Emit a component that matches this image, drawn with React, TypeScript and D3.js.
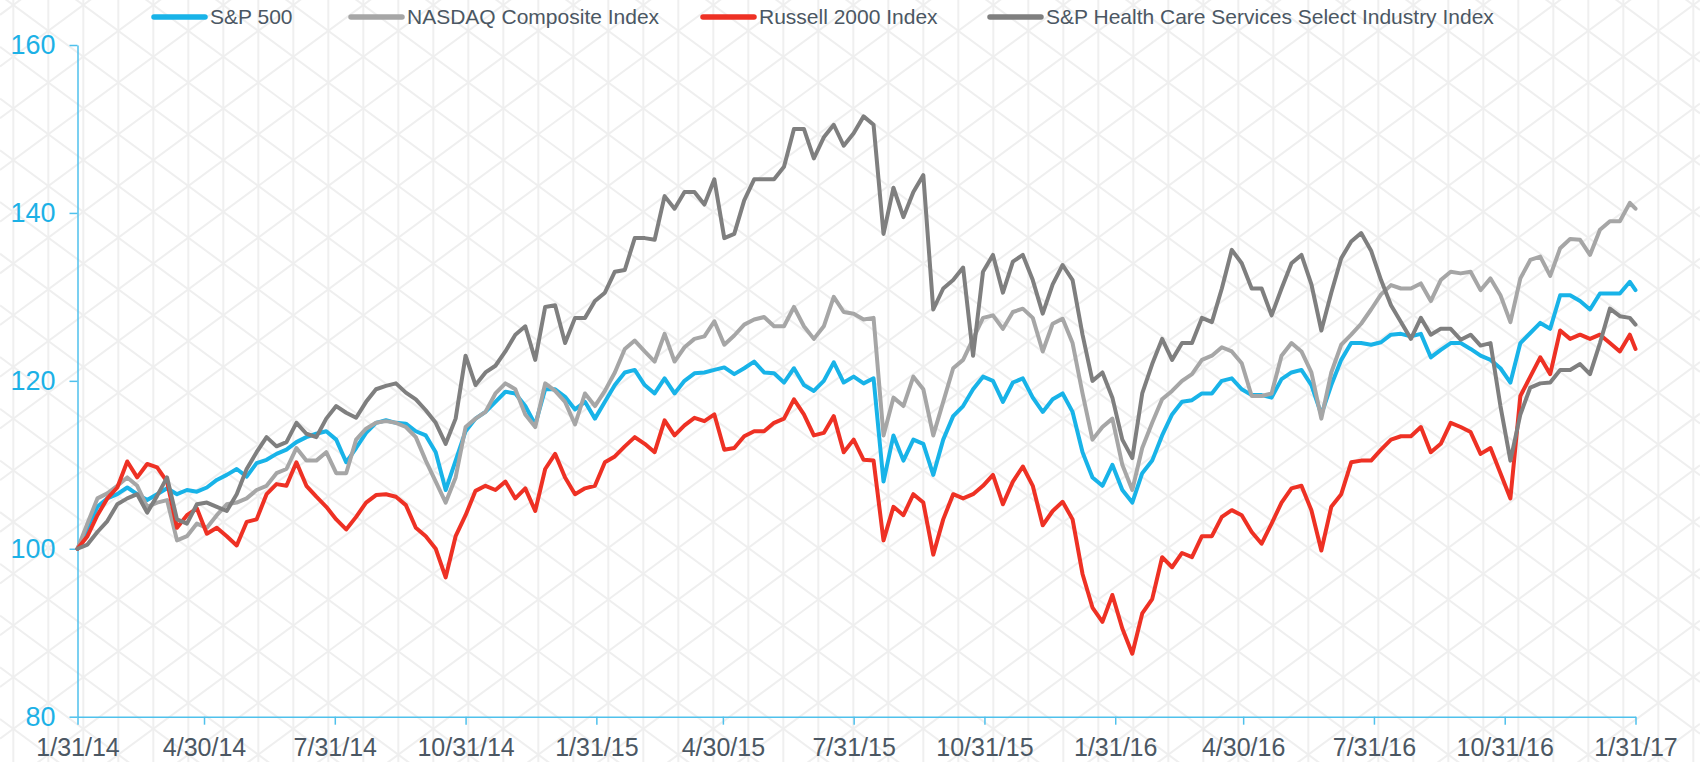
import * as d3 from 'd3';
import { useEffect, useRef } from 'react';

// series, in the order Excel drew them (last one on top)
const seriesNames = [
  'S&P 500',
  'NASDAQ Composite Index',
  'Russell 2000 Index',
  'S&P Health Care Services Select Industry Index',
];
const seriesColors = ['#18b3e8', '#a6a6a6', '#ee3124', '#7f7f7f'];

const startLabel = '1/31/14';
const endLabel = '1/31/17';
const xTickLabels = [
  '1/31/14', '4/30/14', '7/31/14', '10/31/14', '1/31/15', '4/30/15', '7/31/15',
  '10/31/15', '1/31/16', '4/30/16', '7/31/16', '10/31/16', '1/31/17',
];
const yTicks = [80, 100, 120, 140, 160];

// weekly readings, indexed to 100 on 1/31/14, last value is 1/31/17
const spx = [
  100, 102.5, 105, 106, 106.5, 107.3, 106.5, 105.8, 106.5, 107.2,
  106.5, 107, 106.8, 107.3, 108.2, 108.8, 109.5, 108.6, 110.2, 110.6,
  111.3, 111.8, 112.7, 113.3, 113.7, 114, 113, 110.3, 112, 113.8,
  115, 115.3, 115, 114.9, 114, 113.5, 111.5, 107, 110.5, 114,
  115.5, 116.3, 117.5, 118.7, 118.5, 117, 114.8, 119, 119, 118.1,
  116.6, 117.5, 115.5, 117.5, 119.5, 121, 121.3, 119.5, 118.5, 120.3,
  118.5, 120, 120.9, 121, 121.3, 121.6, 120.8, 121.5, 122.3, 121,
  120.9, 119.8, 121.5, 119.5, 118.8, 120, 122.2, 119.8, 120.5, 119.7,
  120.3, 108, 113.5, 110.5, 113, 112.5, 108.8, 113, 115.8, 117,
  119, 120.5, 120, 117.5, 119.8, 120.3, 118, 116.3, 117.8, 118.5,
  116.3, 111.5, 108.5, 107.5, 110, 107, 105.5, 109, 110.5, 113.5,
  116, 117.5, 117.7, 118.5, 118.5, 120, 120.3, 119, 118.3, 118.3,
  118, 120.2, 121, 121.3, 119.5, 116, 119.5, 122.5, 124.5, 124.5,
  124.3, 124.6, 125.5, 125.6, 125.3, 125.6, 122.8, 123.7, 124.5, 124.5,
  123.8, 123, 122.5, 121.5, 119.8, 124.5, 125.7, 126.9, 126.2, 130.2,
  130.2, 129.5, 128.5, 130.4, 130.4, 130.4, 131.8, 130.8,
];

const nasdaq = [
  100, 103, 106, 106.6, 107.5, 108.5, 107.5, 105, 105.5, 105.8,
  101, 101.5, 103, 102.5, 104, 105.3, 105.5, 106, 107, 107.5,
  109, 109.5, 112, 110.5, 110.5, 111.5, 109, 109, 113, 114.3,
  115, 115.2, 115, 114.5, 113.3, 110.5, 108, 105.5, 108.5, 114.5,
  115.5, 116.3, 118.5, 119.7, 119, 116, 114.5, 119.7, 118.8, 117.5,
  114.8, 118.5, 117, 118.8, 121, 123.8, 124.8, 123.5, 122.3, 125.6,
  122.3, 124, 125, 125.3, 127.1, 124.3, 125.4, 126.7, 127.3, 127.6,
  126.5, 126.5, 128.8, 126.5, 125, 126.5, 130, 128.2, 128, 127.3,
  127.5, 113.5, 118, 117, 120.5, 119, 113.5, 117.5, 121.5, 122.5,
  125, 127.5, 127.8, 126.2, 128.2, 128.6, 127.5, 123.5, 126.8, 127.4,
  124.5, 118.5, 113, 114.5, 115.5, 110, 107, 112, 115, 117.8,
  118.8, 120, 120.8, 122.5, 123, 124, 123.5, 122.1, 118.2, 118.2,
  118.5, 123, 124.5, 123.5, 121, 115.5, 121, 124.3, 125.5, 126.8,
  128.5, 130.3, 131.4, 131, 131, 131.6, 129.5, 132, 133, 132.8,
  133, 130.8, 132.2, 130.2, 127, 132.2, 134.4, 134.8, 132.5, 135.8,
  136.9, 136.8, 135, 138, 139, 139, 141.2, 140.5,
];

const russell = [
  100, 101.5, 104, 106, 107.3, 110.4, 108.5, 110.1, 109.7, 108,
  102.5, 104, 104.8, 101.8, 102.5, 101.5, 100.4, 103.2, 103.5, 106.5,
  107.7, 107.5, 110.3, 107.5, 106.2, 105, 103.5, 102.3, 103.8, 105.5,
  106.4, 106.5, 106.2, 105.2, 102.5, 101.5, 100, 96.6, 101.5, 104,
  106.9, 107.5, 107, 108, 106, 107.2, 104.5, 109.5, 111.3, 108.5,
  106.5, 107.2, 107.5, 110.3, 111, 112.2, 113.3, 112.5, 111.5, 115.3,
  113.5, 114.7, 115.6, 115.2, 116, 111.8, 112, 113.4, 114, 114,
  115, 115.5, 117.8, 116, 113.5, 113.8, 115.8, 111.5, 113, 110.6,
  110.5, 101, 105, 104, 106.5, 105.5, 99.3, 103.5, 106.5, 106,
  106.5, 107.5, 108.8, 105.3, 108, 109.8, 107.5, 102.8, 104.5, 105.6,
  103.5, 97, 93, 91.3, 94.5, 90.5, 87.5, 92.3, 94, 99,
  97.8, 99.5, 99, 101.5, 101.5, 103.8, 104.6, 104, 102, 100.6,
  103, 105.5, 107.2, 107.5, 104.6, 99.8, 105, 106.5, 110.3, 110.5,
  110.5, 111.8, 113, 113.4, 113.4, 114.5, 111.5, 112.5, 115, 114.5,
  113.9, 111.3, 112, 109, 106, 118.2, 120.5, 122.8, 120.8, 126,
  125, 125.5, 125, 125.5, 124.5, 123.5, 125.5, 123.8,
];

const healthCare = [
  100, 100.5, 102, 103.3, 105.3, 106, 106.5, 104.3, 106.3, 108.5,
  103.5, 103, 105.3, 105.5, 105, 104.5, 106.5, 109.5, 111.5, 113.3,
  112.2, 112.7, 115, 113.7, 113.3, 115.5, 117, 116.2, 115.6, 117.5,
  119, 119.4, 119.7, 118.6, 117.8, 116.5, 115, 112.5, 115.5, 123,
  119.5, 121, 121.8, 123.5, 125.5, 126.5, 122.5, 128.8, 129, 124.5,
  127.5, 127.5, 129.5, 130.5, 133, 133.2, 137, 137, 136.8, 142,
  140.5, 142.5, 142.5, 141, 144, 137, 137.5, 141.5, 144, 144,
  144, 145.5, 150, 150, 146.5, 149, 150.5, 148, 149.5, 151.5,
  150.5, 137.5, 143, 139.5, 142.5, 144.5, 128.5, 131, 132, 133.5,
  123, 133, 135, 130.5, 134.2, 135, 132, 128, 131.5, 133.8,
  132, 125.5, 120, 121, 118, 113, 110.8, 118.5, 122, 125,
  122.5, 124.5, 124.5, 127.5, 127, 131, 135.6, 134, 131, 131,
  127.8, 131, 134, 135, 131.5, 126, 130.5, 134.6, 136.6, 137.6,
  135.5, 132, 129, 127, 125, 127.5, 125.5, 126.2, 126.2, 124.9,
  125.5, 124.2, 124.5, 117, 110.5, 116, 119.2, 119.7, 119.8, 121.3,
  121.3, 122, 120.8, 124.5, 128.6, 127.7, 127.5, 126.7,
];

const allSeries = [spx, nasdaq, russell, healthCare];

const W = 1700;
const H = 762;
const plot = { left: 77.5, right: 1635.5, top: 45, bottom: 716.7 };
const font = '"Liberation Sans", Arial, Helvetica, sans-serif';
const axisBlue = '#4fc1ec';
// left edge of each legend entry
const legendX = [152, 349, 701, 988];

const ChartDraw = () => {
  const chartRef = useRef(null);

  useEffect(() => {
    document.body.style.margin = '0';
    const svg = d3.select(chartRef.current);
    svg.selectAll('*').remove();

    const parse = d3.timeParse('%m/%d/%y');
    const start = parse(startLabel);
    const end = parse(endLabel);
    const dates = d3.timeDay.range(start, end, 7);
    dates.push(end);

    const x = d3.scaleTime().domain([start, end]).range([plot.left, plot.right]);
    const y = d3.scaleLinear().domain([80, 160]).range([plot.bottom, plot.top]);

    svg.append('rect').attr('width', W).attr('height', H).attr('fill', '#ffffff');

    // triangle lattice in the background
    const bg = svg.append('g').attr('stroke', '#efefef').attr('stroke-width', 2);
    const colW = 35;
    const rowH = 51.7;
    const slope = rowH / 2 / colW;
    for (let vx = 13.3; vx <= W; vx += colW) {
      bg.append('line').attr('x1', vx).attr('x2', vx).attr('y1', 0).attr('y2', H);
    }
    for (let n = -30; n <= 45; n++) {
      const c = 5 + rowH * n;
      bg.append('line')
        .attr('x1', 0).attr('y1', c - slope * 13.3)
        .attr('x2', W).attr('y2', c + slope * (W - 13.3));
      bg.append('line')
        .attr('x1', 0).attr('y1', c + slope * 13.3)
        .attr('x2', W).attr('y2', c - slope * (W - 13.3));
    }

    // axes
    const yAxis = d3.axisLeft(y).tickValues(yTicks).tickSize(8).tickSizeOuter(0).tickPadding(14);
    const gy = svg.append('g').attr('transform', `translate(${plot.left},0)`).call(yAxis);
    gy.select('.domain').attr('stroke', axisBlue).attr('stroke-width', 1.5);
    gy.selectAll('.tick line').attr('stroke', axisBlue).attr('stroke-width', 1.5);
    gy.selectAll('.tick text')
      .attr('fill', '#1cb1e6')
      .style('font-family', font)
      .style('font-size', '27px');

    const xAxis = d3
      .axisBottom(x)
      .tickValues(xTickLabels.map((d) => parse(d)))
      .tickFormat((d, i) => xTickLabels[i])
      .tickSize(8)
      .tickSizeOuter(0)
      .tickPadding(14);
    const gx = svg.append('g').attr('transform', `translate(0,${plot.bottom})`).call(xAxis);
    gx.select('.domain').attr('stroke', axisBlue).attr('stroke-width', 1.5);
    gx.selectAll('.tick line').attr('stroke', axisBlue).attr('stroke-width', 1.5);
    gx.selectAll('.tick text')
      .attr('fill', '#4b5763')
      .style('font-family', font)
      .style('font-size', '25px');

    // series lines
    const line = d3
      .line()
      .x((d, i) => x(dates[i]))
      .y((d) => y(d));

    allSeries.forEach((values, i) => {
      svg
        .append('path')
        .datum(values)
        .attr('d', line)
        .style('fill', 'none')
        .style('stroke', seriesColors[i])
        .style('stroke-width', 4)
        .style('stroke-linejoin', 'round')
        .style('stroke-linecap', 'round');
    });

    // legend
    const legend = svg.append('g').attr('transform', 'translate(0,17)');
    seriesNames.forEach((name, i) => {
      const item = legend.append('g').attr('transform', `translate(${legendX[i]},0)`);
      item
        .append('line')
        .attr('x1', 2).attr('x2', 53)
        .attr('stroke', seriesColors[i])
        .attr('stroke-width', 5.5)
        .attr('stroke-linecap', 'round');
      item
        .append('text')
        .attr('x', 58)
        .attr('dy', '0.35em')
        .attr('fill', '#4b5763')
        .style('font-family', font)
        .style('font-size', '21px')
        .text(name);
    });
  }, []);

  return <svg ref={chartRef} width={W} height={H} style={{ display: 'block' }}></svg>;
};

export default function App() {
  return <ChartDraw />;
}
